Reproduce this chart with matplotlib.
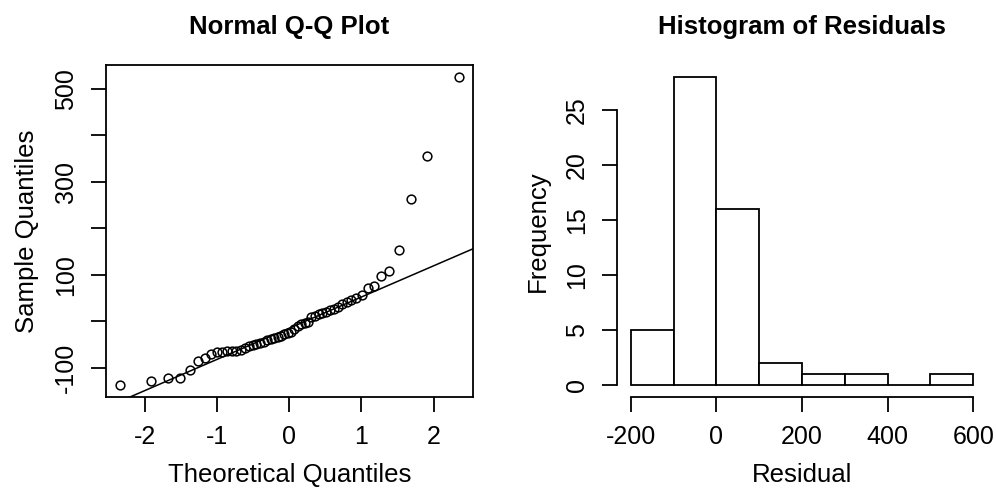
import numpy as np
import matplotlib
matplotlib.use("Agg")
import matplotlib.pyplot as plt
from statistics import NormalDist

residuals = [-137, -127.5, -123, -122, -104,
             -84.5, -78, -70.5, -65, -65, -64.5, -64, -63, -61, -56.5,
             -53, -50, -48, -47, -43.7, -40.4, -37, -35, -33, -30.8,
             -27.5, -25.4, -23.2, -15.7, -10.3, -6, -3.9, -1.7,
             10, 12.3, 15.5, 17.6, 20.9, 24, 27.3, 31.6, 37, 42.4, 45.6,
             51, 56.3, 71.4, 75.7, 98.3, 107.5, 153.5, 263, 356, 525]
hist_breaks = [-200, -100, 0, 100, 200, 300, 400, 500, 600]
qq_yticks = [-100, 0, 100, 200, 300, 400, 500]
qq_ylabels = ["-100", "", "100", "", "300", "", "500"]
qq_xticks = [-2, -1, 0, 1, 2]
hist_xticks = [-200, 0, 200, 400, 600]
hist_yticks = [0, 5, 10, 15, 20, 25]

plt.rcParams['font.family'] = ['Liberation Sans', 'DejaVu Sans']

y = np.sort(np.array(residuals, dtype=float))
n = len(y)
a = 3/8 if n <= 10 else 0.5
pp = (np.arange(1, n + 1) - a) / (n + 1 - 2 * a)
nd = NormalDist()
x = np.array([nd.inv_cdf(p) for p in pp])

# qqline through quartiles (type 7)
q1, q3 = np.quantile(y, [0.25, 0.75])
t1, t3 = nd.inv_cdf(0.25), nd.inv_cdf(0.75)
slope = (q3 - q1) / (t3 - t1)
inter = q1 - slope * t1

fig = plt.figure(figsize=(9.96, 4.9), dpi=100)
LW = 1.3
lab_fs = 18.5
tick_fs = 18
title_fs = 18.5

ax1 = fig.add_axes([106/996, (490-397.3)/490, (472.7-106)/996, (397.3-65)/490])
ax1.plot(x, y, linestyle='none', marker='o', markersize=6.3, markerfacecolor='none',
         markeredgecolor='black', markeredgewidth=1.1)
xr = x.max() - x.min()
yr = y.max() - y.min()
ax1.set_xlim(x.min() - 0.04 * xr, x.max() + 0.04 * xr)
ax1.set_ylim(y.min() - 0.04 * yr, y.max() + 0.04 * yr)
xl = np.array(ax1.get_xlim())
ax1.plot(xl, inter + slope * xl, color='black', lw=1.1)
ax1.set_xlim(xl)
ax1.set_xticks(qq_xticks)
ax1.set_xticklabels([str(v) for v in qq_xticks], fontsize=tick_fs)
ax1.set_yticks(qq_yticks)
ax1.set_yticklabels(qq_ylabels, fontsize=tick_fs, rotation=90, va='center')
for s in ax1.spines.values():
    s.set_linewidth(LW)
ax1.tick_params(length=11, width=LW, pad=9)
ax1.set_xlabel("Theoretical Quantiles", fontsize=lab_fs, labelpad=10)
ax1.set_ylabel("Sample Quantiles", fontsize=lab_fs, labelpad=11)
ax1.set_title("Normal Q-Q Plot", fontsize=title_fs, fontweight='bold', pad=22)

ax2 = fig.add_axes([617/996, (490-397.3)/490, 370/996, (397.3-65)/490])
ax2.hist(y, bins=hist_breaks, facecolor='white', edgecolor='black', linewidth=LW)
ax2.set_xlim(-232, 632)
ax2.set_ylim(-1.12, 29.12)
ax2.spines['top'].set_visible(False)
ax2.spines['right'].set_visible(False)
ax2.spines['left'].set_bounds(0, 25)
ax2.spines['bottom'].set_bounds(-200, 600)
for s in ax2.spines.values():
    s.set_linewidth(LW)
ax2.set_xticks(hist_xticks)
ax2.set_xticklabels([str(v) for v in hist_xticks], fontsize=tick_fs)
ax2.set_yticks(hist_yticks)
ax2.set_yticklabels([str(v) for v in hist_yticks], fontsize=tick_fs, rotation=90, va='center')
ax2.tick_params(length=11, width=LW, pad=9)
ax2.set_xlabel("Residual", fontsize=lab_fs, labelpad=10)
ax2.set_ylabel("Frequency", fontsize=lab_fs, labelpad=11)
ax2.set_title("Histogram of Residuals", fontsize=title_fs, fontweight='bold', pad=22)

fig.savefig("out.png", dpi=100)
